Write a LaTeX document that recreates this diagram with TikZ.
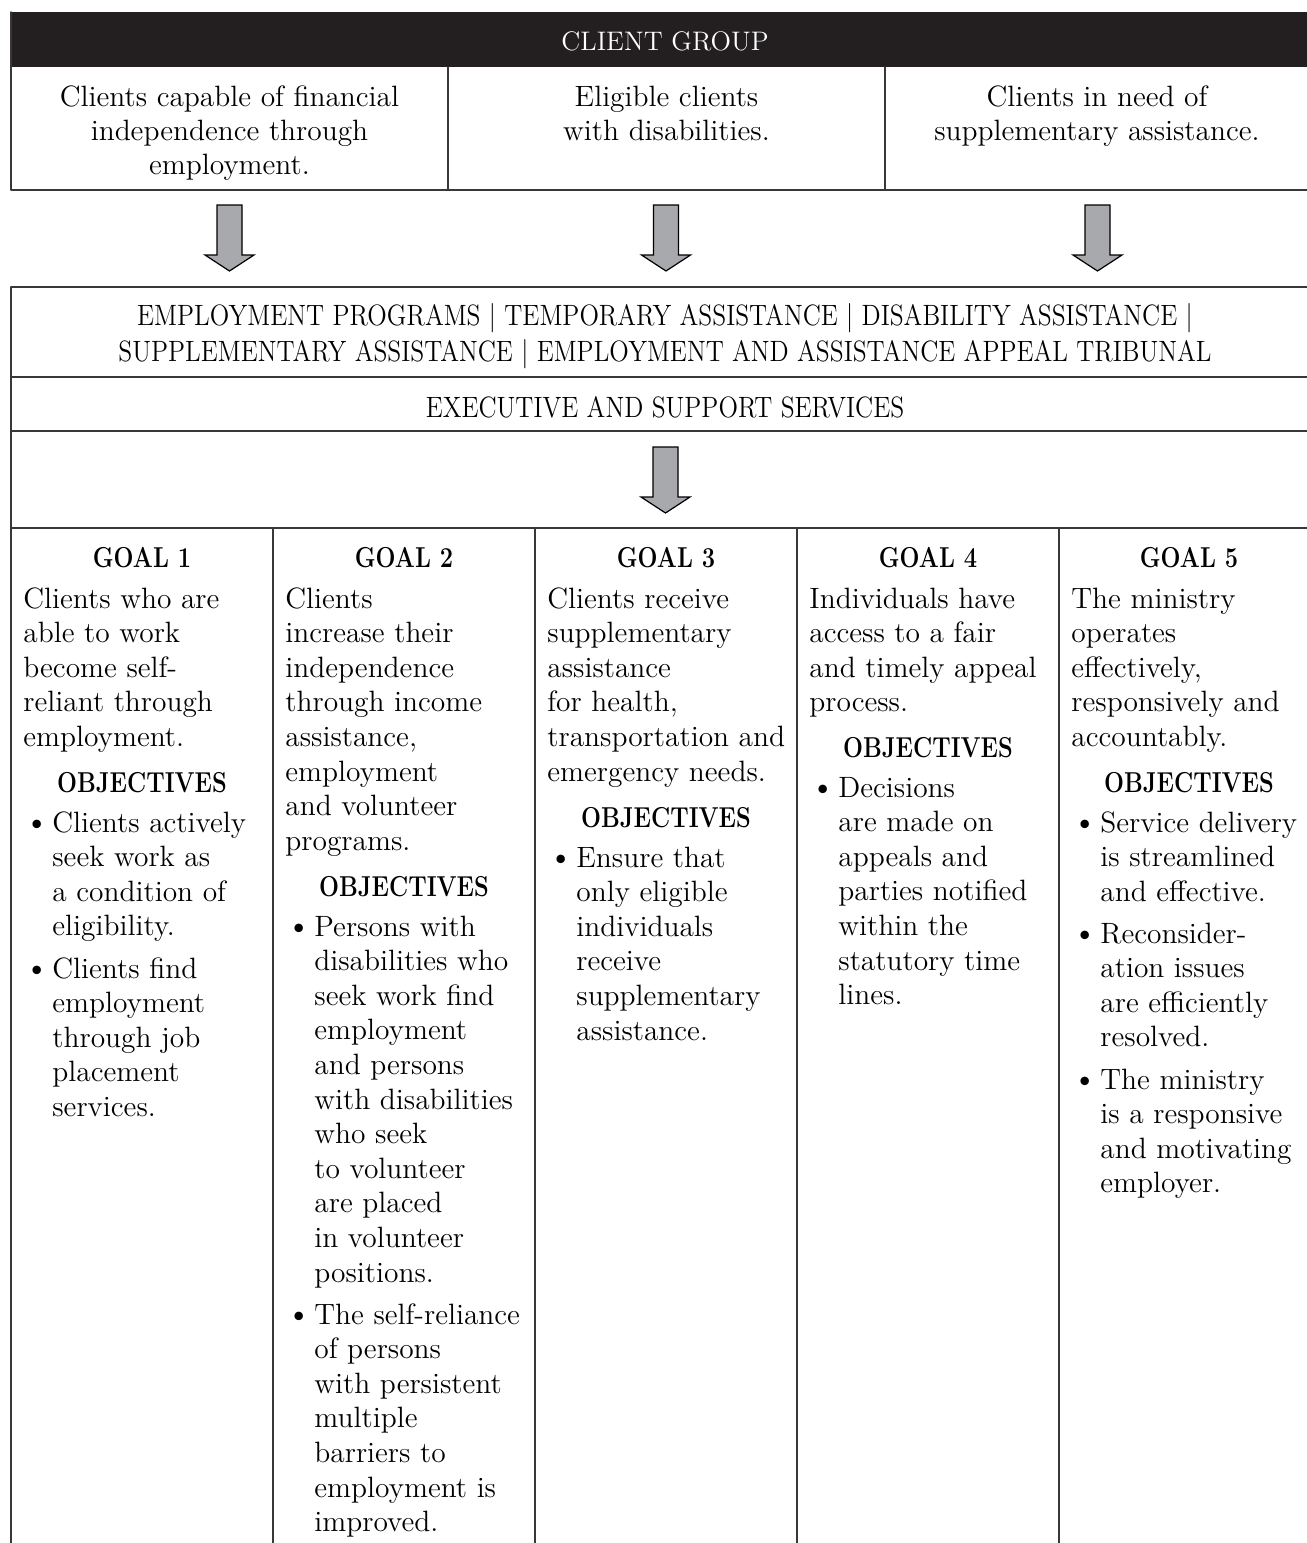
\documentclass[tikz,border=0pt]{standalone}
\usepackage{fontspec}
\definecolor{barblack}{RGB}{35,31,32}
\definecolor{arrowgray}{RGB}{167,169,172}
\newcommand{\narrowcaps}[1]{\scalebox{0.87}[1]{#1}}
\newcommand{\narrowbold}[1]{\scalebox{0.82}[1]{#1}}
\tikzset{
  rule/.style={line width=0.75pt,draw=black!78},
  txt/.style={font=\fontsize{14.7}{17.3}\selectfont,inner sep=0pt,align=left,anchor=base west},
  ctxt/.style={font=\fontsize{14.7}{17}\selectfont,inner sep=0pt,align=center,anchor=base},
  head/.style={font=\fontsize{14.4}{16}\selectfont\bfseries,inner sep=0pt,anchor=base},
  dot/.style={font=\fontsize{19}{17.3}\selectfont,inner sep=0pt,anchor=base west},
  pics/blockarrow/.style={code={\draw[fill=arrowgray,line width=0.6pt,line join=miter]
    (-12.5,0)--(12.5,0)--(12.5,50)--(24.5,50)--(0,66)--(-24.5,50)--(-12.5,50)--cycle;}}
}
\begin{document}
\begin{tikzpicture}[x=0.5pt,y=-0.5pt,line cap=round,line join=round]
\useasboundingbox (0,0) rectangle (1307,1543);
\fill[barblack] (11,12) rectangle (1307,67);
% multi-line nodes sit on the baseline of their last line
\path (665,50) node[ctxt,font=\fontsize{13.4}{15}\selectfont,text=white] (cg) {CLIENT GROUP}
(229.5,174) node[ctxt] (c1) {Clients capable of financial\\independence through\\employment.}
(666.5,140) node[ctxt] (c2) {Eligible clients\\with disabilities.}
(1097,140) node[ctxt] (c3) {Clients in need of\\supplementary assistance.};
\draw[rule] (11,12)--(11,190)--(1307,190) (448,67)--(448,190) (885,67)--(885,190);
\pic at (229.5,205) {blockarrow};
\pic at (666,205) {blockarrow};
\pic at (1097.5,205) {blockarrow};

\draw[rule] (1307,287)--(11,287)--(11,1543) (11,377)--(1307,377) (11,431)--(1307,431)
(11,528)--(1307,528) (273,528)--(273,1543) (535,528)--(535,1543) (797,528)--(797,1543)
(1059,528)--(1059,1543);
\path (665,361) node[ctxt,font=\fontsize{14.7}{18}\selectfont] (prog) {\narrowcaps{EMPLOYMENT PROGRAMS | TEMPORARY ASSISTANCE | DISABILITY ASSISTANCE |}\\
\narrowcaps{SUPPLEMENTARY ASSISTANCE | EMPLOYMENT AND ASSISTANCE APPEAL TRIBUNAL}}
(665,417) node[ctxt] (exec) {\narrowcaps{EXECUTIVE AND SUPPORT SERVICES}};
\pic at (665.5,447) {blockarrow};

\path (142,567) node[head] (g1) {\narrowbold{GOAL 1}}
(23,746.4) node[txt] (t1) {Clients who are\\able to work\\become self-\\reliant through\\employment.}
(142,792) node[head] (o1) {\narrowbold{OBJECTIVES}}
(52,935.8) node[txt] (p1a) {Clients actively\\seek work as\\a condition of\\eligibility.}
(52,1116.4) node[txt] (p1b) {Clients find\\employment\\through job\\placement\\services.};

\path (404,567) node[head] (g2) {\narrowbold{GOAL 2}}
(285,850.2) node[txt] (t2) {Clients\\increase their\\independence\\through income\\assistance,\\employment\\and volunteer\\programs.}
(404,896) node[head] (o2) {\narrowbold{OBJECTIVES}}
(314,1282) node[txt] (p2a) {Persons with\\disabilities who\\seek work find\\employment\\and persons\\with disabilities\\who seek\\to volunteer\\are placed\\in volunteer\\positions.}
(314,1531.6) node[txt] (p2b) {The self-reliance\\of persons\\with persistent\\multiple\\barriers to\\employment is\\improved.};

\path (666,567) node[head] (g3) {\narrowbold{GOAL 3}}
(547,781) node[txt] (t3) {Clients receive\\supplementary\\assistance\\for health,\\transportation and\\emergency needs.}
(666,827) node[head] (o3) {\narrowbold{OBJECTIVES}}
(576,1040) node[txt] (p3a) {Ensure that\\only eligible\\individuals\\receive\\supplementary\\assistance.};

\path (928,567) node[head] (g4) {\narrowbold{GOAL 4}}
(809,711.8) node[txt] (t4) {Individuals have\\access to a fair\\and timely appeal\\process.}
(928,757) node[head] (o4) {\narrowbold{OBJECTIVES}}
(838,1004.6) node[txt] (p4a) {Decisions\\are made on\\appeals and\\parties notified\\within the\\statutory time\\lines.};

\path (1189,567) node[head] (g5) {\narrowbold{GOAL 5}}
(1071,746.4) node[txt] (t5) {The ministry\\operates\\effectively,\\responsively and\\accountably.}
(1189,792) node[head] (o5) {\narrowbold{OBJECTIVES}}
(1100,901.2) node[txt] (p5a) {Service delivery\\is streamlined\\and effective.}
(1100,1046.8) node[txt] (p5b) {Reconsider-\\ation issues\\are efficiently\\resolved.}
(1100,1192.8) node[txt] (p5c) {The ministry\\is a responsive\\and motivating\\employer.};

\path (23,834) node[dot] (d1a) {\textbullet}
(23,980) node[dot] (d1b) {\textbullet}
(285,938) node[dot] (d2a) {\textbullet}
(285,1326) node[dot] (d2b) {\textbullet}
(547,869) node[dot] (d3a) {\textbullet}
(809,799) node[dot] (d4a) {\textbullet}
(1071,834) node[dot] (d5a) {\textbullet}
(1071,945) node[dot] (d5b) {\textbullet}
(1071,1091) node[dot] (d5c) {\textbullet};
\end{tikzpicture}
\end{document}
